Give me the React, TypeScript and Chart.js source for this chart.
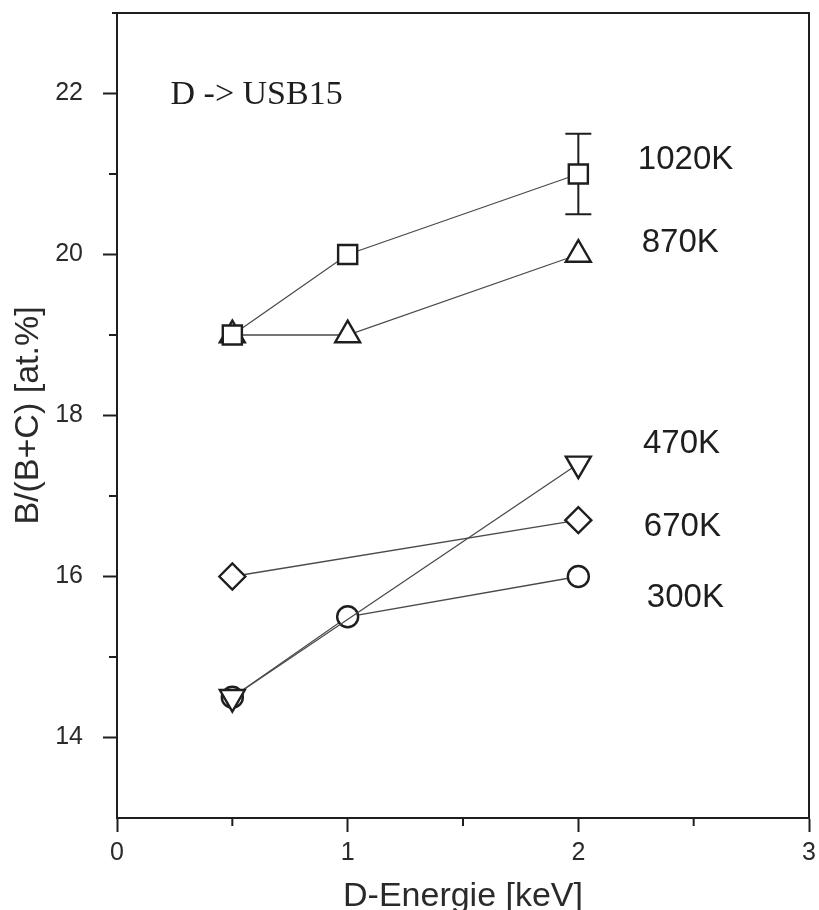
import React, { useEffect, useRef } from 'react';
import { Chart, registerables } from 'chart.js';

Chart.register(...registerables);

// ---- data ----
const energies = [0.5, 1, 2];
const energiesTwo = [0.5, 2];
const values1020K = [19, 20, 21];
const values870K = [19, 19, 20];
const values470K = [14.5, 17.4];
const values670K = [16, 16.7];
const values300K = [14.5, 15.5, 16];
const errorBar1020K = { x: 2, low: 20.5, high: 21.5 };
const seriesNames = ['1020K', '870K', '470K', '670K', '300K'];
const xTicks = [0, 0.5, 1, 1.5, 2, 2.5, 3];
const yTicks = [14, 15, 16, 17, 18, 19, 20, 21, 22];
const annotationText = 'D -> USB15';

// label anchor positions (data coordinates)
const nameX = [2.258, 2.275, 2.28, 2.284, 2.297];
const nameY = [21.18, 20.14, 17.65, 16.62, 15.73];

const INK = '#1e1e1e';
const LINE = '#4a4a4a';
const SANS = '"Liberation Sans", Arial, Helvetica, sans-serif';
const SERIF = '"Liberation Serif", "Times New Roman", serif';

const toPts = (xs: number[], ys: number[]) => xs.map((x, i) => ({ x, y: ys[i] }));

const overlayPlugin = {
  id: 'overlay',
  beforeDatasetsDraw(chart: any) {
    const { ctx, scales } = chart;
    const x = scales.x, y = scales.y;
    ctx.save();
    ctx.strokeStyle = INK;
    ctx.lineWidth = 2;
    const px = x.getPixelForValue(errorBar1020K.x);
    const pl = y.getPixelForValue(errorBar1020K.low);
    const ph = y.getPixelForValue(errorBar1020K.high);
    const cap = 13;
    ctx.beginPath();
    ctx.moveTo(px, pl);
    ctx.lineTo(px, ph);
    ctx.moveTo(px - cap, pl);
    ctx.lineTo(px + cap, pl);
    ctx.moveTo(px - cap, ph);
    ctx.lineTo(px + cap, ph);
    ctx.stroke();
    ctx.restore();
  },
  afterDraw(chart: any) {
    const { ctx, chartArea, scales } = chart;
    const x = scales.x, y = scales.y;
    ctx.save();
    ctx.strokeStyle = INK;
    ctx.lineWidth = 2;
    // top and right frame
    ctx.beginPath();
    ctx.moveTo(chartArea.left - 5, chartArea.top);
    ctx.lineTo(chartArea.right, chartArea.top);
    ctx.lineTo(chartArea.right, chartArea.bottom);
    ctx.stroke();
    // minor ticks
    ctx.beginPath();
    yTicks.filter((v) => v % 2 !== 0).forEach((v) => {
      const py = y.getPixelForValue(v);
      ctx.moveTo(chartArea.left, py);
      ctx.lineTo(chartArea.left - 8, py);
    });
    xTicks.filter((v) => !Number.isInteger(v)).forEach((v) => {
      const pxv = x.getPixelForValue(v);
      ctx.moveTo(pxv, chartArea.bottom);
      ctx.lineTo(pxv, chartArea.bottom + 8);
    });
    ctx.stroke();
    // series names
    ctx.fillStyle = INK;
    ctx.font = `33px ${SANS}`;
    ctx.textAlign = 'left';
    ctx.textBaseline = 'middle';
    seriesNames.forEach((n, i) => {
      ctx.fillText(n, x.getPixelForValue(nameX[i]), y.getPixelForValue(nameY[i]));
    });
    // annotation
    ctx.font = `34px ${SERIF}`;
    ctx.fillText(annotationText, x.getPixelForValue(0.232), y.getPixelForValue(21.98));
    ctx.restore();
  },
};

export default function App() {
  const ref = useRef<HTMLCanvasElement | null>(null);

  useEffect(() => {
    if (!ref.current) return;
    const lineDs = (xs: number[], ys: number[], order = 20) => ({
      data: toPts(xs, ys),
      showLine: true,
      borderColor: LINE,
      borderWidth: 1.3,
      pointRadius: 0,
      order,
    });
    const pointDs = (xs: number[], ys: number[], style: string, r: number, order: number, rot = 0) => ({
      data: toPts(xs, ys),
      showLine: false,
      pointStyle: style,
      pointRadius: r,
      pointRotation: rot,
      pointBorderWidth: 2.4,
      pointBorderColor: INK,
      pointBackgroundColor: '#ffffff',
      order,
    });

    const chart = new Chart(ref.current, {
      type: 'scatter',
      data: {
        datasets: [
          lineDs(energies, values1020K),
          lineDs(energies, values870K),
          lineDs(energiesTwo, values470K, 2.5),
          lineDs(energiesTwo, values670K),
          lineDs(energies, values300K),
          pointDs(energies, values1020K, 'rect', 13.5, 1),
          pointDs(energies, values870K, 'triangle', 14.4, 3),
          pointDs(energiesTwo, values470K, 'triangle', 14.4, 1, 180),
          pointDs(energiesTwo, values670K, 'rectRot', 13, 2),
          pointDs(energies, values300K, 'circle', 10.5, 3),
        ] as any,
      },
      plugins: [overlayPlugin],
      options: {
        animation: false,
        responsive: false,
        events: [],
        layout: { autoPadding: false, padding: { top: 13, right: 10, left: 0, bottom: 0 } },
        plugins: { legend: { display: false }, tooltip: { enabled: false } },
        scales: {
          x: {
            type: 'linear',
            min: 0,
            max: 3,
            afterBuildTicks: (s: any) => {
              s.ticks = xTicks.map((v) => ({ value: v }));
            },
            afterFit: (s: any) => {
              s.height = 92;
              s.paddingLeft = 0;
              s.paddingRight = 0;
            },
            grid: {
              drawOnChartArea: false,
              drawTicks: true,
              tickLength: 14,
              tickWidth: 2,
              tickColor: (c: any) => (c.tick && Number.isInteger(c.tick.value) ? INK : 'rgba(0,0,0,0)'),
            },
            border: { display: true, color: INK, width: 2 },
            ticks: {
              autoSkip: false,
              maxRotation: 0,
              padding: 6,
              color: '#2a2a2a',
              font: { family: SANS, size: 25 },
              callback: (v: any) => (Number.isInteger(v) ? String(v) : ''),
            },
            title: {
              display: true,
              text: 'D-Energie [keV]',
              color: '#2a2a2a',
              font: { family: SANS, size: 34, lineHeight: 0.8 },
              padding: { top: 0, bottom: 0 },
            },
          },
          y: {
            type: 'linear',
            min: 13,
            max: 23,
            afterBuildTicks: (s: any) => {
              s.ticks = yTicks.map((v) => ({ value: v }));
            },
            afterFit: (s: any) => {
              s.width = 117;
              s.paddingTop = 0;
              s.paddingBottom = 0;
            },
            grid: {
              drawOnChartArea: false,
              drawTicks: true,
              tickLength: 14,
              tickWidth: 2,
              tickColor: (c: any) => (c.tick && c.tick.value % 2 === 0 ? INK : 'rgba(0,0,0,0)'),
            },
            border: { display: true, color: INK, width: 2 },
            ticks: {
              autoSkip: false,
              padding: 20,
              color: '#2a2a2a',
              font: { family: SANS, size: 25 },
              callback: (v: any) => (v % 2 === 0 ? String(v) : ''),
            },
            title: {
              display: true,
              text: 'B/(B+C) [at.%]',
              color: '#2a2a2a',
              font: { family: SANS, size: 34, lineHeight: 1.2 },
              padding: { top: 8, bottom: 0 },
            },
          },
        },
      } as any,
    });
    return () => chart.destroy();
  }, []);

  return (
    <div style={{ position: 'absolute', left: 0, top: 0, width: 819, height: 910, background: '#fff' }}>
      <canvas ref={ref} width={819} height={910} />
    </div>
  );
}
